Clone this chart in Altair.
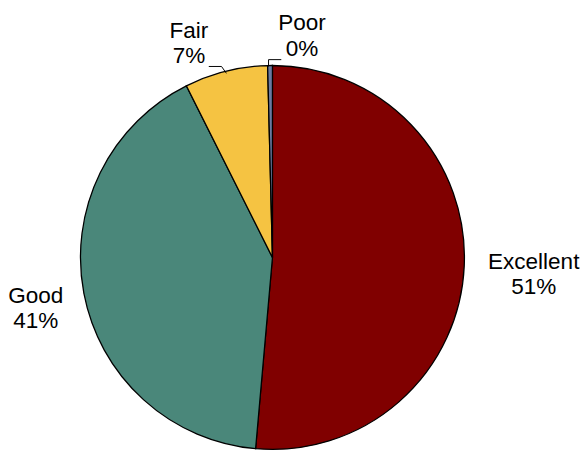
import altair as alt
import pandas as pd
import math

categories = ["Excellent", "Good", "Fair", "Poor"]
shares = [51.4, 41.2, 7.0, 0.4]
pct_labels = ["51%", "41%", "7%", "0%"]
colors = ["#800000", "#4A877A", "#F5C342", "#6A7BA2"]

df = pd.DataFrame({
    "category": categories,
    "share": shares,
    "pct": pct_labels,
    "order": list(range(len(categories))),
})
df["label"] = df["category"] + "\n" + df["pct"]

CX, CY, R = 268, 250, 196

pie = alt.Chart(df).mark_arc(outerRadius=R, stroke="black", strokeWidth=1.3).encode(
    theta=alt.Theta("share:Q", stack=True),
    order=alt.Order("order:Q"),
    x=alt.value(CX),
    y=alt.value(CY),
    color=alt.Color("category:N", scale=alt.Scale(domain=categories, range=colors), legend=None),
)

text_style = dict(font="Liberation Sans", fontSize=23, lineHeight=26, lineBreak="\n",
                  align="center", baseline="middle", color="black")

label_cfg = {
    "Excellent": dict(radius=262, dx=5, dy=-7),
    "Good": dict(radius=246, dx=0, dy=-7),
    "Fair": dict(radius=232, dx=-29, dy=-6),
    "Poor": dict(radius=224, dx=33, dy=-15),
}

total = sum(shares)
texts = []
for cat in categories:
    cfg = label_cfg[cat]
    t = alt.Chart(df).transform_stack(
        stack="share", groupby=[], as_=["s0", "s1"], sort=[alt.SortField("order")]
    ).transform_calculate(
        mid="(datum.s0 + datum.s1) / 2"
    ).transform_filter(
        alt.datum.category == cat
    ).mark_text(radius=cfg["radius"], dx=cfg["dx"], dy=cfg["dy"], **text_style).encode(
        theta=alt.Theta("mid:Q", stack=None, scale=alt.Scale(domain=[0, total], range=[0, 2 * math.pi])),
        x=alt.value(CX),
        y=alt.value(CY),
        text="label:N",
    )
    texts.append(t)

# leader lines
seg = alt.Chart(pd.DataFrame({"a": [0]}))
leaders = [
    seg.mark_rule(color="black", strokeWidth=1).encode(x=alt.value(203), x2=alt.value(216), y=alt.value(55), y2=alt.value(55)),
    seg.mark_rule(color="black", strokeWidth=1).encode(x=alt.value(216), x2=alt.value(221), y=alt.value(55), y2=alt.value(62)),
    seg.mark_rule(color="black", strokeWidth=1).encode(x=alt.value(264), x2=alt.value(264), y=alt.value(48), y2=alt.value(55)),
    seg.mark_rule(color="black", strokeWidth=1).encode(x=alt.value(264), x2=alt.value(277), y=alt.value(48), y2=alt.value(48)),
]

chart = alt.layer(pie, *texts, *leaders).properties(
    width=572, height=439, padding=0
).configure_view(stroke=None)

chart.save("out.html", embed_options={"renderer": "svg", "actions": False})
